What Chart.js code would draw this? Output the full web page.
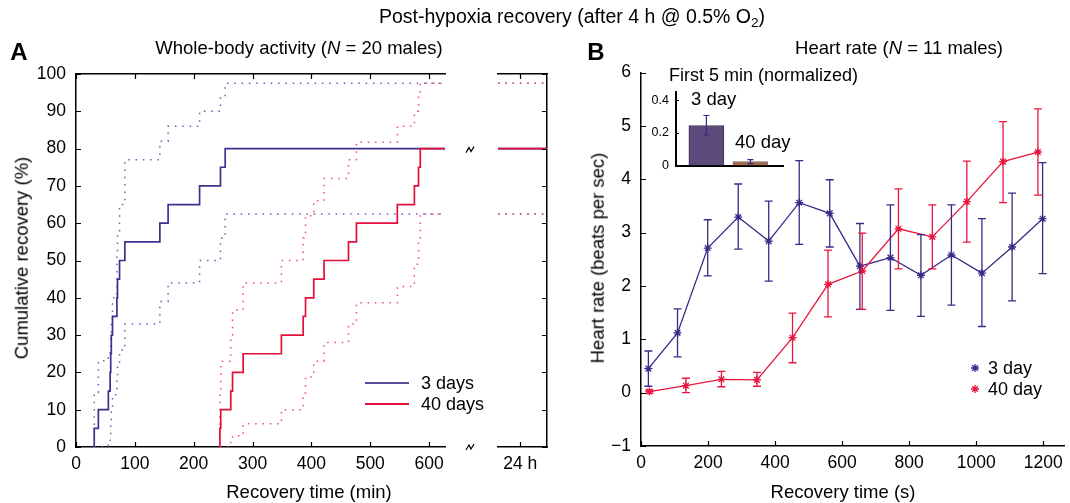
<!DOCTYPE html>
<html><head><meta charset="utf-8">
<script src="https://cdn.jsdelivr.net/npm/chart.js@4.4.1/dist/chart.umd.min.js"></script>
<style>
html,body{margin:0;padding:0;background:#fff;}
#wrap{position:relative;width:1070px;height:503px;overflow:hidden;font-family:'Liberation Sans',Arial,Helvetica,sans-serif;color:#000;}
canvas{position:absolute;}
.t{position:absolute;white-space:nowrap;line-height:1;}
.c{transform:translate(-50%,-50%);}
.l{transform:translateY(-50%);}
.r{transform:translate(-50%,-50%) rotate(-90deg);}
.ln{position:absolute;height:2px;}
sub{font-size:70%;vertical-align:-0.25em;line-height:0;}
</style></head><body>
<div id="wrap">
<canvas id="cA" width="480" height="503" style="left:0;top:0"></canvas>
<canvas id="cA2" width="100" height="503" style="left:470px;top:0"></canvas>
<canvas id="cB" width="490" height="503" style="left:580px;top:0"></canvas>
<canvas id="cI" width="170" height="120" style="left:630px;top:60px"></canvas>

<div class="t c" style="left:572px;top:17px;font-size:19.5px">Post-hypoxia recovery (after 4 h @ 0.5% O<sub>2</sub>)</div>
<div class="t c" style="left:19px;top:52px;font-size:24px;font-weight:bold">A</div>
<div class="t c" style="left:596px;top:52px;font-size:24px;font-weight:bold">B</div>
<div class="t c" style="left:299px;top:48px;font-size:18.5px">Whole-body activity (<i>N</i> = 20 males)</div>
<div class="t c" style="left:899px;top:48px;font-size:18.5px">Heart rate (<i>N</i> = 11 males)</div>
<div class="t r" style="left:22px;top:258px;font-size:18.5px">Cumulative recovery (%)</div>
<div class="t c" style="left:309px;top:492px;font-size:18.5px">Recovery time (min)</div>
<div class="t r" style="left:598px;top:258px;font-size:18.5px">Heart rate (beats per sec)</div>
<div class="t c" style="left:843px;top:492px;font-size:18.5px">Recovery time (s)</div>

<div class="ln" style="left:365px;top:382px;width:44px;background:#5a4d9c"></div>
<div class="ln" style="left:365px;top:403px;width:44px;background:#e3103c"></div>
<div class="t l" style="left:421px;top:383px;font-size:18px">3 days</div>
<div class="t l" style="left:421px;top:404px;font-size:18px">40 days</div>

<div class="t l" style="left:988px;top:368px;font-size:18px">3 day</div>
<div class="t l" style="left:988px;top:389px;font-size:18px">40 day</div>

<div class="t l" style="left:669px;top:75px;font-size:18px">First 5 min (normalized)</div>
<div class="t l" style="left:691px;top:99px;font-size:18.5px">3 day</div>
<div class="t l" style="left:735px;top:142px;font-size:18.5px">40 day</div>
</div>

<script>
// ---------- Panel A data: cumulative recovery (%) vs recovery time (min) ----------
const blueTimes = [31, 38, 55, 58, 59, 60, 62, 69.5, 70.5, 74, 83, 142.5, 156.5, 210, 245.5, 253.5];
const bluePct   = [5, 10, 15, 20, 25, 30, 35, 40, 45, 50, 55, 60, 65, 70, 75, 80];
const blueUpper = [14.6, 23.1, 24, 26, 30, 34, 40, 52, 57, 65, 77, 82, 86, 90, 94, 97.5];
const blueLower = [0, 0, 0.5, 3, 6, 10, 14, 18, 22, 26, 33, 39, 44, 50, 56, 62.5];
const redTimes  = [244.5, 246, 263, 266, 284, 349, 386, 390, 404, 421.5, 463, 476.5, 546, 575, 582, 585];
const redPct    = [5, 10, 15, 20, 25, 30, 35, 40, 45, 50, 55, 60, 65, 70, 75, 80];
const redUpper  = [14.3, 23, 30, 36.7, 44, 50, 56, 62, 66, 72, 77, 81.7, 86, 90, 94, 97.5];
const redLower  = [0, 0, 1.5, 3, 6.2, 10, 14.5, 18.8, 23, 28, 33, 38.7, 43, 49, 56, 62.5];
const ticksAx = [0, 100, 200, 300, 400, 500, 600];
const ticksAy = [0, 10, 20, 30, 40, 50, 60, 70, 80, 90, 100];
const segTickLabels = ['24 h'];

// ---------- Panel B data: heart rate (beats per sec) vs recovery time (s) ----------
const hrBlueT  = [22, 109, 199, 290, 381, 472, 563, 653, 744, 835, 926, 1017, 1107, 1198];
const hrBlue   = [0.45, 1.12, 2.71, 3.29, 2.84, 3.56, 3.36, 2.37, 2.53, 2.20, 2.58, 2.24, 2.73, 3.26];
const hrBlueLo = [0.12, 0.67, 2.19, 2.69, 2.09, 2.78, 2.73, 1.56, 1.54, 1.43, 1.64, 1.24, 1.72, 2.23];
const hrBlueHi = [0.78, 1.57, 3.24, 3.91, 3.59, 4.35, 3.99, 3.17, 3.52, 2.96, 3.52, 3.26, 3.74, 4.31];
const hrRedT   = [25, 134, 240, 346, 452, 558, 660, 768, 869, 972, 1080, 1184];
const hrRed    = [0.02, 0.13, 0.25, 0.24, 1.03, 2.03, 2.28, 3.07, 2.92, 3.58, 4.33, 4.51];
const hrRedLo  = [-0.01, 0.00, 0.11, 0.12, 0.56, 1.42, 1.56, 2.32, 2.32, 2.82, 3.56, 3.70];
const hrRedHi  = [0.05, 0.27, 0.40, 0.38, 1.49, 2.67, 2.99, 3.82, 3.52, 4.34, 5.08, 5.32];
const ticksBx = [0, 200, 400, 600, 800, 1000, 1200];
const ticksBy = [-1, 0, 1, 2, 3, 4, 5, 6];

// ---------- Inset: first 5 min (normalized) ----------
const insetCats = ['3 day', '40 day'];
const insetVals = [0.245, 0.024];
const insetLo   = [0.187, 0.012];
const insetHi   = [0.306, 0.036];
const ticksIy = [0, 0.2, 0.4];

// ---------- styles ----------
const FONT = "'Liberation Sans', Arial, Helvetica, sans-serif";
const C_BLUE = '#3f2f8f', C_RED = '#e3103c';
const C_BLUE_DOT = '#6a5fb3', C_RED_DOT = '#ea4d72';
const C_HR_BLUE = '#3a2a88', C_HR_RED = '#e8163f';
const A_XMAX = 627, SEG_MIN = 0, SEG_MAX = 2.2, SEG_TICK = 1;
const B_XMAX = 1262;

function stepData(times, vals, end) {
  const d = [{x: times[0], y: 0}];
  times.forEach((t, i) => d.push({x: t, y: vals[i]}));
  d.push({x: end, y: vals[vals.length - 1]});
  return d;
}
function setTicks(arr) { return s => { s.ticks = arr.map(v => ({value: v})); }; }
function tickFont(size) { return {family: FONT, size: size}; }
const plainNum = v => (v < 0 ? '\u2212' + Math.abs(v) : String(v));

function inTicks(list) {
  return { id: 'inTicks', afterDraw(chart) {
    const ctx = chart.ctx, ca = chart.chartArea;
    ctx.save(); ctx.strokeStyle = '#000';
    list.forEach(it => {
      const s = chart.scales[it.id];
      ctx.lineWidth = it.w || 1.2;
      ctx.beginPath();
      s.ticks.forEach(tk => {
        const p = Math.round(s.getPixelForValue(tk.value)) + 0.5;
        if (it.side === 'left') { ctx.moveTo(ca.left, p); ctx.lineTo(ca.left + it.len, p); }
        if (it.side === 'right') { ctx.moveTo(ca.right, p); ctx.lineTo(ca.right - it.len, p); }
        if (it.side === 'bottom') { ctx.moveTo(p, ca.bottom); ctx.lineTo(p, ca.bottom - it.len); }
        if (it.side === 'top') { ctx.moveTo(p, ca.top); ctx.lineTo(p, ca.top + it.len); }
      });
      ctx.stroke();
    });
    ctx.restore();
  }};
}

function errBars(specs) {
  return { id: 'errBars', afterDatasetsDraw(chart) {
    const ctx = chart.ctx, ys = chart.scales.y;
    ctx.save();
    specs.forEach(sp => {
      const meta = chart.getDatasetMeta(sp.ds);
      ctx.strokeStyle = sp.color; ctx.lineWidth = sp.w || 1.3;
      ctx.beginPath();
      meta.data.forEach((el, j) => {
        const x = el.x, y1 = ys.getPixelForValue(sp.lo[j]), y2 = ys.getPixelForValue(sp.hi[j]);
        ctx.moveTo(x, y1); ctx.lineTo(x, y2);
        ctx.moveTo(x - sp.cap, y1); ctx.lineTo(x + sp.cap, y1);
        ctx.moveTo(x - sp.cap, y2); ctx.lineTo(x + sp.cap, y2);
      });
      ctx.stroke();
    });
    ctx.restore();
  }};
}

const breakMarks = { id: 'brk', afterDraw(chart) {
  const ctx = chart.ctx, ca = chart.chartArea, ys = chart.scales.y;
  const x = ca.right + 25;
  [ys.getPixelForValue(bluePct[bluePct.length - 1]) + 1, ca.bottom].forEach(y => {
    ctx.save(); ctx.strokeStyle = '#000'; ctx.lineWidth = 1.2;
    ctx.beginPath();
    ctx.moveTo(x - 4, y + 3); ctx.lineTo(x - 1, y - 2); ctx.lineTo(x + 1, y + 2); ctx.lineTo(x + 4, y - 3);
    ctx.stroke(); ctx.restore();
  });
}};

const legendB = { id: 'legB', afterDraw(chart) {
  const ctx = chart.ctx, ca = chart.chartArea;
  [[C_HR_BLUE, 368], [C_HR_RED, 389]].forEach(([c, y]) => {
    ctx.save(); ctx.strokeStyle = c; ctx.fillStyle = c; ctx.lineWidth = 1.3;
    Chart.helpers.drawPoint(ctx, {pointStyle: 'star', radius: 4, borderWidth: 1.3, rotation: 0}, ca.left + 334, y);
    ctx.restore();
  });
}};

const noPlug = {legend: {display: false}, tooltip: {enabled: false}};
const border = (w) => ({display: true, color: '#000', width: w || 1.5});

function lineDs(data, color, dotted) {
  return {data, borderColor: color, borderWidth: dotted ? 1.5 : 1.7, borderDash: dotted ? [1.5, 5.8] : [],
          stepped: 'before', pointRadius: 0, fill: false, tension: 0};
}

// ---------- Panel A: main segment ----------
new Chart(document.getElementById('cA'), {
  type: 'line',
  data: { datasets: [
    lineDs(stepData(redTimes, redPct, A_XMAX), C_RED, false),
    lineDs(stepData(blueTimes, bluePct, A_XMAX), C_BLUE, false),
    lineDs(stepData(redTimes, redUpper, A_XMAX), C_RED_DOT, true),
    lineDs(stepData(redTimes, redLower, A_XMAX), C_RED_DOT, true),
    lineDs(stepData(blueTimes, blueUpper, A_XMAX), C_BLUE_DOT, true),
    lineDs(stepData(blueTimes, blueLower, A_XMAX), C_BLUE_DOT, true)
  ]},
  options: {
    responsive: false, animation: false, devicePixelRatio: 1,
    layout: {padding: {left: 0, top: 74, right: 35, bottom: 26}},
    plugins: noPlug,
    scales: {
      x: {type: 'linear', min: 0, max: A_XMAX, position: 'bottom', afterBuildTicks: setTicks(ticksAx),
          ticks: {font: tickFont(17.5), color: '#000', padding: 7, maxRotation: 0, autoSkip: false, callback: plainNum},
          grid: {display: false, drawTicks: false}, border: border(), afterFit: s => { s.height = 30; }},
      xt: {type: 'linear', min: 0, max: A_XMAX, position: 'top', afterBuildTicks: setTicks(ticksAx),
          ticks: {display: false}, grid: {display: false, drawTicks: false}, border: border(), afterFit: s => { s.height = 0; }},
      y: {type: 'linear', min: 0, max: 100, position: 'left', afterBuildTicks: setTicks(ticksAy),
          ticks: {font: tickFont(17.5), color: '#000', padding: 10, autoSkip: false, callback: plainNum},
          grid: {display: false, drawTicks: false}, border: border(), afterFit: s => { s.width = 76; }}
    }
  },
  plugins: [inTicks([{id: 'x', side: 'bottom', len: 5}, {id: 'xt', side: 'top', len: 5}, {id: 'y', side: 'left', len: 5}]), breakMarks]
});

// ---------- Panel A: 24 h segment ----------
function flatDs(vals, color, dotted) {
  const v = vals[vals.length - 1];
  return lineDs([{x: SEG_MIN, y: v}, {x: SEG_MAX, y: v}], color, dotted);
}
new Chart(document.getElementById('cA2'), {
  type: 'line',
  data: { datasets: [
    flatDs(redPct, C_RED, false), flatDs(bluePct, C_BLUE, false),
    flatDs(redUpper, C_RED_DOT, true), flatDs(redLower, C_RED_DOT, true),
    flatDs(blueUpper, C_BLUE_DOT, true), flatDs(blueLower, C_BLUE_DOT, true)
  ]},
  options: {
    responsive: false, animation: false, devicePixelRatio: 1,
    layout: {padding: {left: 28, top: 74, right: 23, bottom: 26}},
    plugins: noPlug,
    scales: {
      x: {type: 'linear', min: SEG_MIN, max: SEG_MAX, position: 'bottom', afterBuildTicks: setTicks([SEG_TICK]),
          ticks: {font: tickFont(17.5), color: '#000', padding: 7, maxRotation: 0, callback: (v, i) => segTickLabels[i]},
          grid: {display: false, drawTicks: false}, border: border(), afterFit: s => { s.height = 30; }},
      xt: {type: 'linear', min: SEG_MIN, max: SEG_MAX, position: 'top', afterBuildTicks: setTicks([SEG_TICK]),
          ticks: {display: false}, grid: {display: false, drawTicks: false}, border: border(), afterFit: s => { s.height = 0; }},
      y: {type: 'linear', min: 0, max: 100, position: 'right', afterBuildTicks: setTicks(ticksAy),
          ticks: {display: false}, grid: {display: false, drawTicks: false}, border: border(), afterFit: s => { s.width = 0; }}
    }
  },
  plugins: [inTicks([{id: 'x', side: 'bottom', len: 5}, {id: 'xt', side: 'top', len: 5}, {id: 'y', side: 'right', len: 5}])]
});

// ---------- Panel B ----------
const ptsB = (xs, ys) => xs.map((x, i) => ({x, y: ys[i]}));
new Chart(document.getElementById('cB'), {
  type: 'line',
  data: { datasets: [
    {data: ptsB(hrRedT, hrRed), borderColor: C_HR_RED, backgroundColor: C_HR_RED, borderWidth: 1.3,
     pointStyle: 'star', pointRadius: 4, pointBorderWidth: 1.3, pointBorderColor: C_HR_RED, tension: 0, fill: false},
    {data: ptsB(hrBlueT, hrBlue), borderColor: C_HR_BLUE, backgroundColor: C_HR_BLUE, borderWidth: 1.3,
     pointStyle: 'star', pointRadius: 4, pointBorderWidth: 1.3, pointBorderColor: C_HR_BLUE, tension: 0, fill: false}
  ]},
  options: {
    responsive: false, animation: false, devicePixelRatio: 1,
    layout: {padding: {left: 0, top: 72.5, right: 5, bottom: 27}},
    plugins: noPlug,
    scales: {
      x: {type: 'linear', min: 0, max: B_XMAX, position: 'bottom', afterBuildTicks: setTicks(ticksBx),
          ticks: {font: tickFont(17.5), color: '#000', padding: 7, maxRotation: 0, autoSkip: false, callback: plainNum},
          grid: {display: false, drawTicks: false}, border: border(), afterFit: s => { s.height = 30; }},
      y: {type: 'linear', min: -1, max: 6, position: 'left', afterBuildTicks: setTicks(ticksBy),
          ticks: {font: tickFont(17.5), color: '#000', padding: 10, autoSkip: false, callback: plainNum},
          grid: {display: false, drawTicks: false}, border: border(), afterFit: s => { s.width = 61; }}
    }
  },
  plugins: [errBars([{ds: 1, lo: hrBlueLo, hi: hrBlueHi, color: C_HR_BLUE, cap: 4},
                     {ds: 0, lo: hrRedLo, hi: hrRedHi, color: C_HR_RED, cap: 4}]),
            inTicks([{id: 'x', side: 'bottom', len: 5}, {id: 'y', side: 'left', len: 5}]), legendB]
});

// ---------- Inset ----------
new Chart(document.getElementById('cI'), {
  type: 'bar',
  data: { labels: insetCats, datasets: [{
    data: insetVals.map((v, i) => ({x: i + 1, y: v})),
    backgroundColor: ['#5d4a7c', '#a86a4e'], borderColor: ['#3a3050', '#777'], borderWidth: 1,
    barThickness: 35
  }]},
  options: {
    responsive: false, animation: false, devicePixelRatio: 1,
    layout: {padding: {left: 0, top: 32, right: 17, bottom: 13}},
    plugins: noPlug,
    scales: {
      x: {type: 'linear', min: 0.31, max: 2.74, offset: false, ticks: {display: false},
          grid: {display: false, drawTicks: false}, border: border(2), afterFit: s => { s.height = 0; }},
      y: {type: 'linear', min: 0, max: 0.45, afterBuildTicks: setTicks(ticksIy),
          ticks: {font: tickFont(12.5), color: '#000', padding: 7, callback: v => String(v)},
          grid: {display: false, drawTicks: false}, border: border(2), afterFit: s => { s.width = 46; }}
    }
  },
  plugins: [errBars([{ds: 0, lo: insetLo, hi: insetHi, color: '#3a2a88', cap: 3, w: 1.2}]),
            inTicks([{id: 'y', side: 'left', len: 3}])]
});
</script>
</body></html>
